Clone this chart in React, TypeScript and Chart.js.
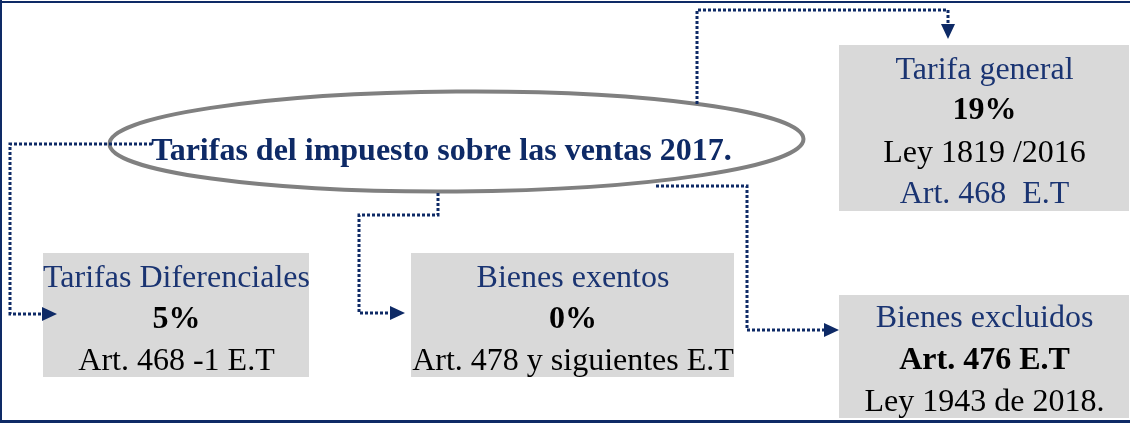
import React, { useEffect, useRef } from "react";
import { Chart, registerables } from "chart.js";

Chart.register(...registerables);

const W = 1130;
const H = 423;

// ---- text content ----
const titleText = "Tarifas del impuesto sobre las ventas 2017.";
const boxNames = ["Tarifa general", "Tarifas Diferenciales", "Bienes exentos", "Bienes excluidos"];
const boxRates = ["19%", "5%", "0%", "Art. 476 E.T"];
const boxRefs = ["Ley 1819 /2016", "Art. 468 -1 E.T", "Art. 478 y siguientes E.T", "Ley 1943 de 2018."];
const boxExtra = ["Art. 468  E.T", "", "", ""];

// ---- layout (diagram coordinates) ----
const boxX0 = [839, 43, 411, 839];
const boxX1 = [1129, 309, 734, 1129];
const boxY0 = [45, 253, 253, 295];
const boxY1 = [211, 377, 377, 418];
const boxBaselines = [
  [79, 119, 162, 203],
  [287, 328, 370],
  [287, 328, 370],
  [327, 369, 411],
];

const connectorX = [
  [697, 697, 948, 948],
  [152, 10, 10, 43],
  [438, 438, 359, 359, 391],
  [656, 747, 747, 824],
];
const connectorY = [
  [104, 10, 10, 26],
  [144, 144, 314, 314],
  [193, 215, 215, 313, 313],
  [186, 186, 330, 330],
];
const arrowTipX = [948, 57, 405, 839];
const arrowTipY = [39, 314, 313, 330];
const arrowDir = ["down", "right", "right", "right"];

const NAVY = "#0e2a66";
const NAVY_TEXT = "#1a3472";
const FONT = "'Liberation Serif', 'Times New Roman', serif";
const FS = 32;

const diagramPlugin = {
  id: "diagram",
  beforeDatasetsDraw(chart: any) {
    const ctx = chart.ctx;
    const sx = chart.scales.x;
    const sy = chart.scales.y;
    const px = (v: number) => sx.getPixelForValue(v);
    const py = (v: number) => sy.getPixelForValue(v);
    ctx.save();

    // frame
    ctx.strokeStyle = NAVY;
    ctx.lineWidth = 2;
    ctx.beginPath();
    ctx.moveTo(px(0), py(2));
    ctx.lineTo(px(W), py(2));
    ctx.moveTo(px(1), py(0));
    ctx.lineTo(px(1), py(H));
    ctx.stroke();
    ctx.lineWidth = 3;
    ctx.beginPath();
    ctx.moveTo(px(0), py(421.5));
    ctx.lineTo(px(W), py(421.5));
    ctx.stroke();

    // boxes
    for (let i = 0; i < boxNames.length; i++) {
      const x0 = px(boxX0[i]);
      const x1 = px(boxX1[i]);
      const y0 = py(boxY0[i]);
      const y1 = py(boxY1[i]);
      ctx.fillStyle = "#d9d9d9";
      ctx.fillRect(x0, y0, x1 - x0, y1 - y0);
      const cx = (x0 + x1) / 2 + 0.5;
      const lines = [boxNames[i], boxRates[i], boxRefs[i], boxExtra[i]];
      ctx.textAlign = "center";
      ctx.textBaseline = "alphabetic";
      lines.forEach((t, j) => {
        if (!t) return;
        const base = boxBaselines[i][j];
        ctx.font = (j === 1 ? "bold " : "") + FS + "px " + FONT;
        ctx.fillStyle = j === 0 || j === 3 ? NAVY_TEXT : "#000000";
        ctx.fillText(t, cx, py(base));
      });
    }

    // ellipse
    ctx.strokeStyle = "#808080";
    ctx.lineWidth = 4;
    ctx.beginPath();
    ctx.ellipse(px(456.5), py(141.5), 347, 50, -0.007, 0, Math.PI * 2);
    ctx.stroke();

    // title
    ctx.font = "bold " + FS + "px " + FONT;
    ctx.fillStyle = NAVY;
    ctx.textAlign = "center";
    ctx.fillText(titleText, px(441.5), py(160));
    ctx.restore();
  },
  afterDatasetsDraw(chart: any) {
    const ctx = chart.ctx;
    const sx = chart.scales.x;
    const sy = chart.scales.y;
    ctx.save();
    ctx.fillStyle = NAVY;
    for (let i = 0; i < arrowTipX.length; i++) {
      const tx = sx.getPixelForValue(arrowTipX[i]);
      const ty = sy.getPixelForValue(arrowTipY[i]);
      const len = 15;
      const half = 7;
      ctx.beginPath();
      if (arrowDir[i] === "down") {
        ctx.moveTo(tx, ty);
        ctx.lineTo(tx - half, ty - len);
        ctx.lineTo(tx + half, ty - len);
      } else {
        ctx.moveTo(tx, ty);
        ctx.lineTo(tx - len, ty - half);
        ctx.lineTo(tx - len, ty + half);
      }
      ctx.closePath();
      ctx.fill();
    }
    ctx.restore();
  },
};

export default function App() {
  const ref = useRef<HTMLCanvasElement | null>(null);
  useEffect(() => {
    document.body.style.margin = "0";
    if (!ref.current) return;
    const datasets = connectorX.map((xs, i) => ({
      type: "line" as const,
      data: xs.map((x, j) => ({ x, y: connectorY[i][j] })),
      borderColor: NAVY,
      borderWidth: 3,
      borderDash: [3, 2],
      borderCapStyle: "butt" as const,
      pointRadius: 0,
      tension: 0,
      fill: false,
      showLine: true,
    }));
    const chart = new Chart(ref.current, {
      type: "scatter",
      data: { datasets },
      options: {
        responsive: false,
        animation: false,
        devicePixelRatio: 1,
        events: [],
        layout: { padding: 0 },
        plugins: { legend: { display: false }, tooltip: { enabled: false } },
        scales: {
          x: { type: "linear", min: 0, max: W, display: false },
          y: { type: "linear", min: 0, max: H, reverse: true, display: false },
        },
      },
      plugins: [diagramPlugin],
    } as any);
    return () => chart.destroy();
  }, []);
  return (
    <div style={{ width: W, height: H, background: "#ffffff" }}>
      <canvas ref={ref} width={W} height={H} style={{ display: "block" }} />
    </div>
  );
}
